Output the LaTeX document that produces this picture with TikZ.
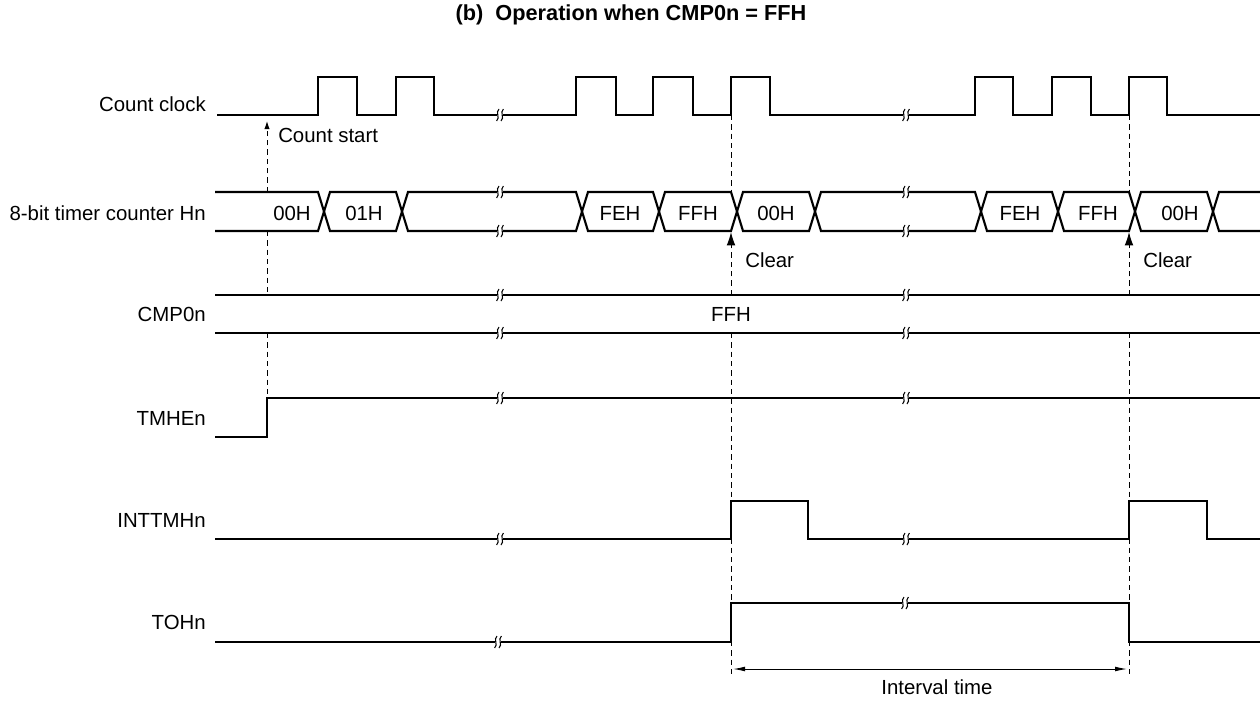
\documentclass[tikz,border=0pt]{standalone}
\usepackage{fontspec}
\setmainfont{Liberation Sans}
\usetikzlibrary{arrows.meta}
\begin{document}
\begin{tikzpicture}[x=0.75pt,y=-0.75pt,
  sig/.style={line width=1.6pt, line join=miter},
  guide/.style={line width=0.75pt, dash pattern=on 4pt off 3pt},
  lbl/.style={font=\fontsize{15.3}{18}\selectfont, inner sep=0pt},
  signame/.style={lbl, anchor=east},
  val/.style={lbl},
  brk/.pic={
    \fill[white] (-2.6,-2.6) rectangle (2.6,2.6);
    \draw[line width=0.8pt] (-1.0,-6) .. controls (-5.0,-2.5) and (0.6,2.5) .. (-3.4,6);
    \draw[line width=0.8pt] (3.4,-6) .. controls (-0.6,-2.5) and (5.0,2.5) .. (1.0,6);
  },
  clrtip/.style={-{Latex[length=10pt,width=6.5pt]}},
]
\useasboundingbox (0,0) rectangle (1260,700);

% title
\node[font=\bfseries\fontsize{16.3}{19}\selectfont, inner sep=0pt] (title) at (631,15) {(b)\ \ Operation when CMP0n = FFH};

% signal names
\node[signame] (nclk) at (206,104) {Count clock};
\node[signame] (ncnt) at (206,213) {8-bit timer counter Hn};
\node[signame] (ncmp) at (206,314) {CMP0n};
\node[signame] (ntmhe) at (206,418) {TMHEn};
\node[signame] (nint) at (206,520) {INTTMHn};
\node[signame] (ntoh) at (206,622) {TOHn};

% count clock
\draw[sig] (217,115) -- (318,115) -- (318,77) -- (357,77) -- (357,115) -- (396,115) -- (396,77) -- (434,77) -- (434,115)
  -- (576,115) -- (576,77) -- (616,77) -- (616,115) -- (653,115) -- (653,77) -- (693,77) -- (693,115)
  -- (731,115) -- (731,77) -- (770,77) -- (770,115)
  -- (975,115) -- (975,77) -- (1013,77) -- (1013,115) -- (1052,115) -- (1052,77) -- (1091,77) -- (1091,115)
  -- (1129,115) -- (1129,77) -- (1167,77) -- (1167,115) -- (1260,115);
\pic at (500,115) {brk};
\pic at (906,115) {brk};

% counter bus
\def\T{192}\def\B{231}
\draw[sig] (215,\T) -- (318,\T) -- (330,\B) -- (396,\B) -- (408,\T) -- (576,\T) -- (588,\B) -- (653,\B) -- (665,\T)
  -- (731,\T) -- (743,\B) -- (809,\B) -- (821,\T) -- (975,\T) -- (987,\B) -- (1052,\B) -- (1064,\T)
  -- (1129,\T) -- (1141,\B) -- (1207,\B) -- (1219,\T) -- (1260,\T);
\draw[sig] (215,\B) -- (318,\B) -- (330,\T) -- (396,\T) -- (408,\B) -- (576,\B) -- (588,\T) -- (653,\T) -- (665,\B)
  -- (731,\B) -- (743,\T) -- (809,\T) -- (821,\B) -- (975,\B) -- (987,\T) -- (1052,\T) -- (1064,\B)
  -- (1129,\B) -- (1141,\T) -- (1207,\T) -- (1219,\B) -- (1260,\B);
\pic at (500,\T) {brk}; \pic at (500,\B) {brk};
\pic at (906,\T) {brk}; \pic at (906,\B) {brk};
\node[val] (v1) at (292,213) {00H};
\node[val] (v2) at (364,213) {01H};
\node[val] (v3) at (620,213) {FEH};
\node[val] (v4) at (698,213) {FFH};
\node[val] (v5) at (776,213) {00H};
\node[val] (v6) at (1020,213) {FEH};
\node[val] (v7) at (1098,213) {FFH};
\node[val] (v8) at (1180,213) {00H};

% CMP0n
\draw[sig] (215,295) -- (1260,295);
\draw[sig] (215,333) -- (1260,333);
\pic at (500,295) {brk}; \pic at (500,333) {brk};
\pic at (906,295) {brk}; \pic at (906,333) {brk};
\node[val] (vcmp) at (731,314) {FFH};

% TMHEn
\draw[sig] (215,437) -- (267,437) -- (267,398) -- (1260,398);
\pic at (500,398) {brk}; \pic at (906,398) {brk};

% INTTMHn
\draw[sig] (215,539) -- (731,539) -- (731,501) -- (808,501) -- (808,539) -- (1129,539) -- (1129,501) -- (1207,501) -- (1207,539) -- (1260,539);
\pic at (500,539) {brk}; \pic at (906,539) {brk};

% TOHn
\draw[sig] (215,642) -- (731,642) -- (731,603) -- (1129,603) -- (1129,642) -- (1260,642);
\pic at (498,642) {brk}; \pic at (905,603) {brk};

% guide lines
\coordinate (csTop) at (267,121);
\draw[guide, -{Latex[length=6pt,width=4pt]}] (267,192) -- (csTop);
\draw[guide] (267,231) -- (267,295);
\draw[guide] (267,333) -- (267,398);
\node[lbl, anchor=west] (cstart) at (278,135) {Count start};

\coordinate (clrA) at (731,232);
\coordinate (clrB) at (1129,232);
\draw[guide] (731,115) -- (731,192);
\draw[guide, clrtip] (731,295) -- (clrA);
\draw[guide] (731,333) -- (731,678);
\draw[guide] (1129,115) -- (1129,192);
\draw[guide, clrtip] (1129,295) -- (clrB);
\draw[guide] (1129,333) -- (1129,678);
\node[lbl, anchor=west] (clear1) at (745,260) {Clear};
\node[lbl, anchor=west] (clear2) at (1143,260) {Clear};

% interval
\coordinate (ivA) at (733,669);
\coordinate (ivB) at (1127,669);
\draw[line width=0.75pt, {Latex[length=9pt,width=3.6pt]}-{Latex[length=9pt,width=3.6pt]}] (ivA) -- (ivB);
\node[lbl] (ivt) at (937,687) {Interval time};
\end{tikzpicture}
\end{document}
